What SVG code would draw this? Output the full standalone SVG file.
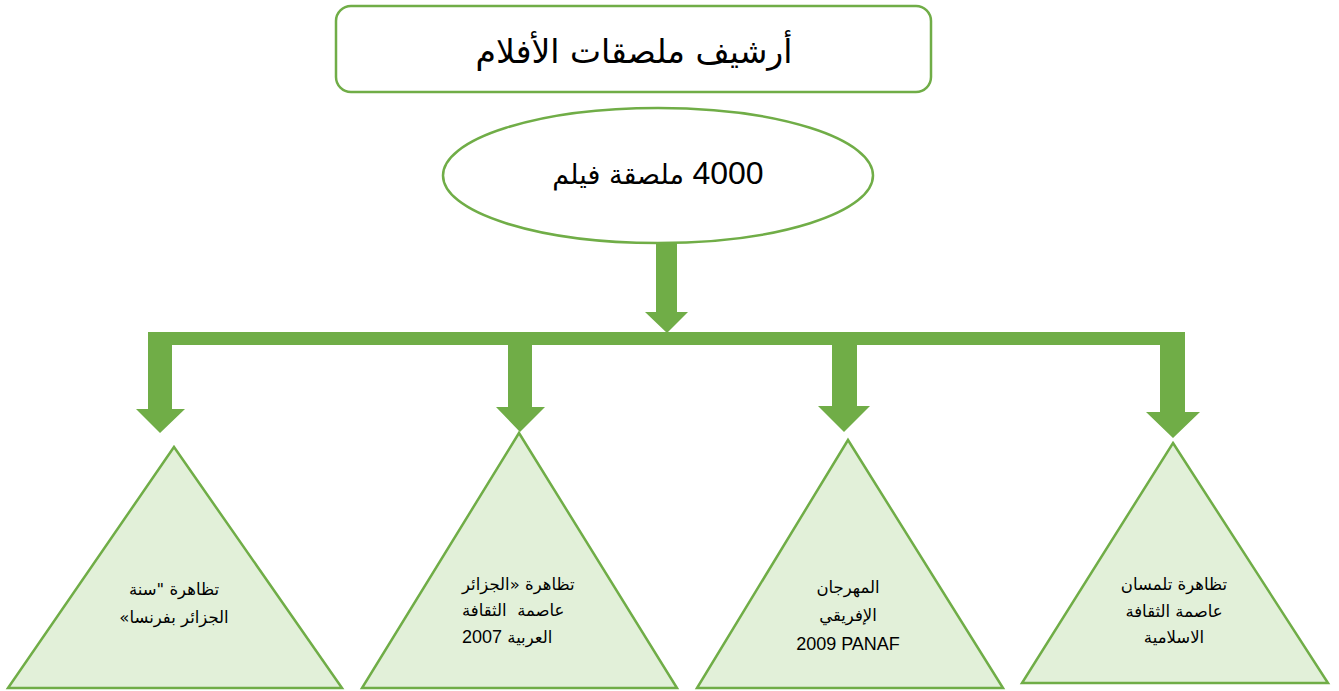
<svg xmlns="http://www.w3.org/2000/svg" width="1339" height="691" viewBox="0 0 1339 691">
  <style>
    .box { fill: #ffffff; stroke: #70AD47; stroke-width: 2.5; }
    .tri { fill: #E2F0D9; stroke: #70AD47; stroke-width: 2.5; stroke-linejoin: miter; }
    .flow { fill: #70AD47; stroke: none; }
    .ar { font-family: "DejaVu Sans", "Liberation Sans", sans-serif; fill: #000000; direction: rtl; unicode-bidi: embed; }
    .lat { font-family: "Liberation Sans", "DejaVu Sans", sans-serif; fill: #000000; }
    .title { font-size: 33px; }
    .oval { font-size: 27px; }
    .small { font-size: 16.5px; }
  </style>
  <rect width="1339" height="691" fill="#ffffff"/>

  <!-- connectors: thick block arrows and the distribution bar -->
  <g id="connectors" class="flow">
    <polygon points="656,243 677,243 677,312 688,312 667,333 645,312 656,312"/>
    <rect x="148" y="332" width="1037" height="13"/>
    <polygon points="148,332 172,332 172,409 185,409 160,433 136,409 148,409"/>
    <polygon points="508,344 532,344 532,407 545,407 520,432 496,407 508,407"/>
    <polygon points="832,344 857,344 857,406 870,406 844,432 818,406 832,406"/>
    <polygon points="1160,332 1185,332 1185,412 1200,412 1173,438 1146,412 1160,412"/>
  </g>

  <!-- title -->
  <g id="node-title">
    <rect class="box" x="336" y="6" width="595" height="86" rx="15" ry="15"/>
    <text class="ar title" x="634" y="63" text-anchor="middle">أرشيف ملصقات الأفلام</text>
  </g>

  <!-- collection size -->
  <g id="node-count">
    <ellipse class="box" cx="658" cy="175.5" rx="215" ry="67.5"/>
    <text class="ar oval" x="658" y="184" text-anchor="middle"><tspan class="lat" style="font-size:32px">4000</tspan> ملصقة فيلم</text>
  </g>

  <!-- event 1 -->
  <g id="node-france">
    <polygon class="tri" points="174,447 342,688 8,688"/>
    <text class="ar small" x="174" y="595" text-anchor="middle">تظاهرة "سنة</text>
    <text class="ar small" x="174" y="623" text-anchor="middle">الجزائر بفرنسا»</text>
  </g>

  <!-- event 2 -->
  <g id="node-arab-capital">
    <polygon class="tri" points="519,433 677,688 362,688"/>
    <text class="ar small" x="462" y="590" text-anchor="end">تظاهرة «الجزائر</text>
    <text class="ar small" x="462" y="616" text-anchor="end" xml:space="preserve">عاصمة  الثقافة</text>
    <text class="ar small" x="462" y="643" text-anchor="end">العربية <tspan class="lat" style="font-size:18px">2007</tspan></text>
  </g>

  <!-- event 3 -->
  <g id="node-panaf">
    <polygon class="tri" points="848,440 1003,688 697,688"/>
    <text class="ar small" x="848" y="593" text-anchor="middle">المهرجان</text>
    <text class="ar small" x="848" y="621" text-anchor="middle">الإفريقي</text>
    <text class="lat" x="848" y="650" text-anchor="middle" style="font-size:18px">2009 PANAF</text>
  </g>

  <!-- event 4 -->
  <g id="node-tlemcen">
    <polygon class="tri" points="1173,443 1328,683 1022,683"/>
    <text class="ar small" x="1174" y="590" text-anchor="middle">تظاهرة تلمسان</text>
    <text class="ar small" x="1174" y="617" text-anchor="middle">عاصمة الثقافة</text>
    <text class="ar small" x="1174" y="643" text-anchor="middle">الاسلامية</text>
  </g>
</svg>
